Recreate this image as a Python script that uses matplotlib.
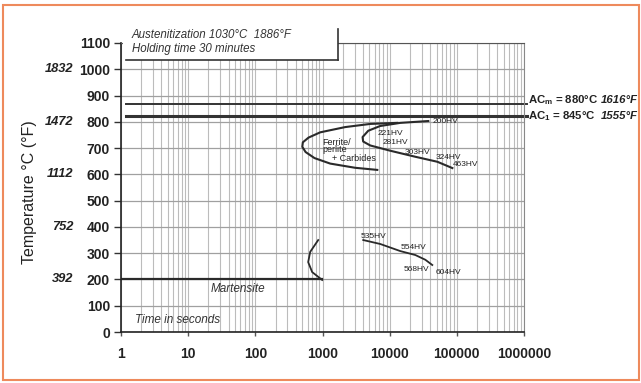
import matplotlib
matplotlib.use("Agg")
import matplotlib.pyplot as plt
from matplotlib.ticker import LogLocator, FixedLocator, NullFormatter
from matplotlib.patches import Rectangle
from matplotlib.lines import Line2D
import matplotlib.transforms as mtrans
import numpy as np

plt.rcParams['font.family'] = ['Liberation Sans', 'DejaVu Sans']
plt.rcParams['mathtext.fontset'] = 'custom'
plt.rcParams['mathtext.rm'] = 'Liberation Sans:bold'
plt.rcParams['mathtext.it'] = 'Liberation Sans:bold'
plt.rcParams['mathtext.bf'] = 'Liberation Sans:bold'

# ---- data ----
x_ticks = [1, 10, 100, 1000, 10000, 100000, 1000000]
x_ticklabels = ["1", "10", "100", "1000", "10000", "100000", "1000000"]
y_ticks = [0, 100, 200, 300, 400, 500, 600, 700, 800, 900, 1000, 1100]
f_ticks_c = [1000, 800, 600, 400, 200]
f_labels = ["1832", "1472", "1112", "752", "392"]

acm_temp = 868
ac1_temp = 824
ms_temp = 200
ms_end_time = 990

# ferrite/pearlite start curve (outer)
fp_start_t = [12980, 5140, 2180, 925, 620, 510, 500, 560, 760, 1303, 3070, 6540]
fp_start_T = [796, 792, 780, 760, 740, 722, 705, 685, 662, 641, 625, 617]
# ferrite/pearlite finish curve (inner)
fp_end_t = [37600, 14400, 7200, 4800, 3950, 4030, 5140, 10200, 24100, 51200, 85700]
fp_end_T = [803, 796, 784, 766, 742, 725, 710, 690, 667, 648, 624]
# small curve above Ms
ms_curve_t = [990, 702, 612, 656, 863]
ms_curve_T = [198, 228, 266, 305, 350]
# bainite curve
bain_t = [4044, 7240, 14390, 24100, 33950, 43100]
bain_T = [350, 335, 308, 293, 275, 255]

hv_labels = ["200HV", "221HV", "281HV", "303HV", "324HV", "463HV",
             "535HV", "554HV", "568HV", "604HV"]
hv_t = [43100, 6540, 7760, 16500, 47800, 85700, 3700, 14390, 15950, 47800]
hv_T = [803, 757, 723, 685, 666, 636, 362, 320, 236, 228]

# ---- figure ----
fig = plt.figure(figsize=(6.41, 3.83), dpi=100)
ax = fig.add_axes([121/641, 1-332/383, (524-121)/641, (332-43)/383])
ax.set_xscale('log')
ax.set_xlim(1, 1e6)
ax.set_ylim(0, 1100)

ax.xaxis.set_major_locator(FixedLocator(x_ticks))
ax.set_xticklabels(x_ticklabels)
ax.xaxis.set_minor_locator(LogLocator(base=10, subs=np.arange(2, 10), numticks=20))
ax.xaxis.set_minor_formatter(NullFormatter())
ax.set_yticks(y_ticks)
ax.set_yticklabels([str(v) for v in y_ticks])

ax.grid(True, which='both', axis='x', color='#bcbcbc', lw=0.8)
ax.grid(True, which='major', axis='y', color='#a0a0a0', lw=0.9)
ax.set_axisbelow(True)

for lab in ax.get_xticklabels() + ax.get_yticklabels():
    lab.set_fontweight('bold')
    lab.set_fontsize(10)
    lab.set_color('#222222')
ax.tick_params(axis='y', which='major', length=5, width=1, color='#333333', pad=3)
ax.tick_params(axis='x', which='major', length=3, width=1, color='#555555', pad=8)
ax.tick_params(axis='x', which='minor', length=0)

ax.spines['left'].set_color('#222222')
ax.spines['left'].set_linewidth(1.2)
ax.spines['bottom'].set_color('#222222')
ax.spines['bottom'].set_linewidth(1.2)
ax.spines['right'].set_color('#888888')
ax.spines['top'].set_color('#555555')

line_c = '#2a2a2a'
# AC lines (extend slightly beyond axes)
ax.plot([1.2, 1.1e6], [acm_temp, acm_temp], color='#333333', lw=1.4, clip_on=False)
ax.plot([1.2, 1.1e6], [ac1_temp, ac1_temp], color='#333333', lw=2.2, clip_on=False)
# Ms line
ax.plot([1, ms_end_time], [ms_temp, ms_temp], color=line_c, lw=1.6)
ax.plot(ms_curve_t, ms_curve_T, color=line_c, lw=1.3)
ax.plot(fp_start_t, fp_start_T, color=line_c, lw=1.5)
ax.plot(fp_end_t, fp_end_T, color=line_c, lw=1.5)
ax.plot(bain_t, bain_T, color=line_c, lw=1.3)

for lab, t, T in zip(hv_labels, hv_t, hv_T):
    ax.text(t, T, lab, fontsize=6, ha='left', va='center', color='#222222')

ax.text(990, 723, "Ferrite/", fontsize=6.5, ha='left', va='center', color='#222222')
ax.text(990, 693, "perlite", fontsize=6.5, ha='left', va='center', color='#222222')
ax.text(1396, 659, "+ Carbides", fontsize=6.5, ha='left', va='center', color='#222222')

ax.text(55.4, 164, "Martensite", fontsize=8.5, style='italic', ha='center', va='center', color='#333333')
ax.text(1.62, 46, "Time in seconds", fontsize=8.5, style='italic', ha='left', va='center', color='#333333')

# AC labels
fig.text(528/641, 1-100/383, r"AC$_\mathrm{m}$ = 880°C", fontsize=8.2, fontweight='bold', ha='left', va='center', color='#222222')
fig.text(638/641, 1-100/383, "1616°F", fontsize=8.2, fontweight='bold', style='italic', ha='right', va='center', color='#222222')
fig.text(528/641, 1-116/383, r"AC$_\mathrm{1}$ = 845°C", fontsize=8.2, fontweight='bold', ha='left', va='center', color='#222222')
fig.text(638/641, 1-116/383, "1555°F", fontsize=8.2, fontweight='bold', style='italic', ha='right', va='center', color='#222222')

# Fahrenheit labels
trans = mtrans.blended_transform_factory(fig.transFigure, ax.transData)
for c, f in zip(f_ticks_c, f_labels):
    ax.text(73/641, c, f, transform=trans, fontsize=9.3, fontweight='bold', style='italic',
            ha='right', va='center', color='#222222', clip_on=False)

fig.text(30/641, 1-192/383, "Temperature °C (°F)", rotation=90, fontsize=11.5,
         ha='center', va='center', color='#222222')

# header box
box = Rectangle((123/641, 1-60/383), (338-123)/641, (60-29)/383, transform=fig.transFigure,
                facecolor='white', edgecolor='none', zorder=5)
fig.add_artist(box)
fig.add_artist(Line2D([126/641, 338/641], [1-60/383, 1-60/383], transform=fig.transFigure,
                      color='#333333', lw=1.2, zorder=6))
fig.add_artist(Line2D([338/641, 338/641], [1-60/383, 1-29/383], transform=fig.transFigure,
                      color='#333333', lw=1.2, zorder=6))
fig.text(132/641, 1-35/383, "Austenitization 1030°C  1886°F", fontsize=8.3, style='italic',
         ha='left', va='center', color='#333333', zorder=7)
fig.text(132/641, 1-49/383, "Holding time 30 minutes", fontsize=8.3, style='italic',
         ha='left', va='center', color='#333333', zorder=7)

# orange frame
fig.add_artist(Rectangle((3/641, 1-380/383), (639-3)/641, (380-5)/383, transform=fig.transFigure,
                         facecolor='none', edgecolor='#ee8a5c', lw=1.5, zorder=10))

fig.savefig("out.png", dpi=100)
